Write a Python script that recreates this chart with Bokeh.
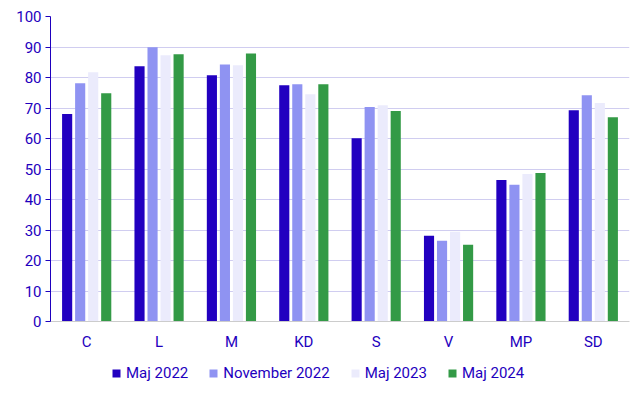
from bokeh.plotting import figure
from bokeh.models import ColumnDataSource, FactorRange, Range1d, Legend, LegendItem
from bokeh.layouts import column
from bokeh.transform import dodge
from bokeh.embed import file_html
from bokeh.resources import INLINE

categories = ["C", "L", "M", "KD", "S", "V", "MP", "SD"]
series_names = ["Maj 2022", "November 2022", "Maj 2023", "Maj 2024"]
maj_2022 = [68.0, 83.7, 80.7, 77.5, 60.1, 28.1, 46.4, 69.3]
nov_2022 = [78.1, 89.9, 84.3, 77.8, 70.3, 26.5, 44.8, 74.2]
maj_2023 = [81.7, 87.3, 84.0, 74.5, 70.9, 29.4, 48.4, 71.6]
maj_2024 = [74.8, 87.6, 87.9, 77.8, 69.0, 25.2, 48.7, 67.0]
y_ticks = [0, 10, 20, 30, 40, 50, 60, 70, 80, 90, 100]

colors = ["#2200c0", "#8f93f2", "#ebebfc", "#339a46"]
text_color = "#1e00be"
font = "Roboto"

source = ColumnDataSource(dict(cat=categories, s0=maj_2022, s1=nov_2022, s2=maj_2023, s3=maj_2024))
keys = ["s0", "s1", "s2", "s3"]
offsets = [-0.27, -0.09, 0.09, 0.27]

x_range = FactorRange(*categories)
p = figure(x_range=x_range, y_range=Range1d(0, 100),
           width=643, height=353, output_backend="svg", toolbar_location=None,
           min_border_left=50, min_border_right=14, min_border_top=16, min_border_bottom=28)
p.outline_line_color = None
p.background_fill_color = "white"

for i, key in enumerate(keys):
    p.vbar(x=dodge("cat", offsets[i], range=x_range), top=key, width=0.14,
           source=source, fill_color=colors[i], line_color=None)

p.yaxis.ticker = y_ticks
p.yaxis.axis_line_color = text_color
p.yaxis.major_tick_line_color = text_color
p.yaxis.major_tick_out = 5
p.yaxis.major_tick_in = 0
p.yaxis.minor_tick_line_color = None
p.yaxis.major_label_text_color = text_color
p.yaxis.major_label_text_font = font
p.yaxis.major_label_text_font_size = "15px"
p.yaxis.major_label_standoff = 4

p.xaxis.axis_line_color = "#cccccc"
p.xaxis.major_tick_line_color = None
p.xaxis.minor_tick_line_color = None
p.xaxis.major_label_text_color = text_color
p.xaxis.major_label_text_font = font
p.xaxis.major_label_text_font_size = "15px"
p.xaxis.major_label_standoff = 5

p.xgrid.grid_line_color = None
p.ygrid.grid_line_color = "#d0cdf0"
p.ygrid.grid_line_width = 1

# legend strip: same series, drawn out of view so only the legend shows
lg = figure(x_range=x_range, y_range=Range1d(1000, 1001),
            width=643, height=42, output_backend="svg", toolbar_location=None,
            min_border=0)
lg.outline_line_color = None
lg.axis.visible = False
lg.grid.visible = False
lg_renderers = []
for i, key in enumerate(keys):
    r = lg.vbar(x=dodge("cat", offsets[i], range=x_range), top=key, width=0.14,
                source=source, fill_color=colors[i], line_color=None)
    lg_renderers.append(r)

legend = Legend(items=[LegendItem(label=series_names[i], renderers=[lg_renderers[i]]) for i in range(4)],
                orientation="horizontal", location=(61, 13),
                label_text_font=font, label_text_font_size="15px", label_text_color=text_color,
                glyph_width=10, glyph_height=10, spacing=20, label_standoff=5,
                border_line_color=None, background_fill_alpha=0, margin=0, padding=3)
lg.add_layout(legend, "center")

layout = column(p, lg, spacing=0)
open("out.html", "w").write(file_html(layout, INLINE))
